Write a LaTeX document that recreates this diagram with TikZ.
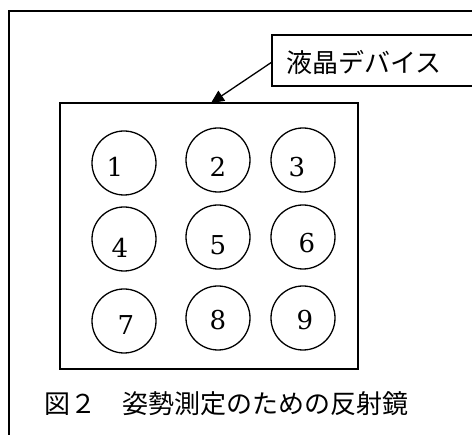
\documentclass[tikz,border=0pt]{standalone}
\usepackage{fontspec}
\newfontfamily\jp{Noto Sans CJK JP}
\newfontfamily\digitfont{DejaVu Serif}
\usetikzlibrary{arrows.meta}
\tikzset{
  mirror/.style={draw, circle, line width=1.3pt, minimum size=64pt, inner sep=0pt},
  num/.style={font=\digitfont\fontsize{26}{26}\selectfont, inner sep=0pt},
  frame/.style={line width=2.2pt},
  box/.style={line width=1.3pt},
}
\begin{document}
\begin{tikzpicture}[x=1pt,y=-1pt]
\useasboundingbox (0,0) rectangle (472,435);
\clip (0,0) rectangle (472,435);
% outer frame (right and bottom outside picture)
\draw[frame] (9,500) -- (9,11) -- (500,11);
% label box
\draw[box] (272,35) rectangle (500,86);
\node[font=\jp\fontsize{26}{26}\selectfont, anchor=west, inner sep=0pt] (lbl) at (286,62) {液晶デバイス};
\coordinate (lblw) at (272,62);
% device rectangle
\draw[box] (60,103) rectangle (358,369);
\coordinate (tip) at (211,103);
\draw[line width=1.3pt, -{Triangle[length=13pt,width=12pt]}] (lblw) -- (tip);
% mirrors
\node[mirror] (c1) at (124,163) {};
\node[mirror] (c2) at (218,160) {};
\node[mirror] (c3) at (303,160) {};
\node[mirror] (c4) at (124,239) {};
\node[mirror] (c5) at (218,237) {};
\node[mirror] (c6) at (303,237) {};
\node[mirror] (c7) at (124,321) {};
\node[mirror] (c8) at (218,318) {};
\node[mirror] (c9) at (303,318) {};
\node[num] (n1) at (115,167) {1};
\node[num] (n2) at (218,167) {2};
\node[num] (n3) at (297,167) {3};
\node[num] (n4) at (120,248) {4};
\node[num] (n5) at (218,245) {5};
\node[num] (n6) at (307,243) {6};
\node[num] (n7) at (126,325) {7};
\node[num] (n8) at (218,320) {8};
\node[num] (n9) at (305,320) {9};
% caption
\node[font=\jp\fontsize{26}{26}\selectfont, anchor=west, inner sep=0pt] (cap) at (44,404) {図２　姿勢測定のための反射鏡};
\end{tikzpicture}
\end{document}
